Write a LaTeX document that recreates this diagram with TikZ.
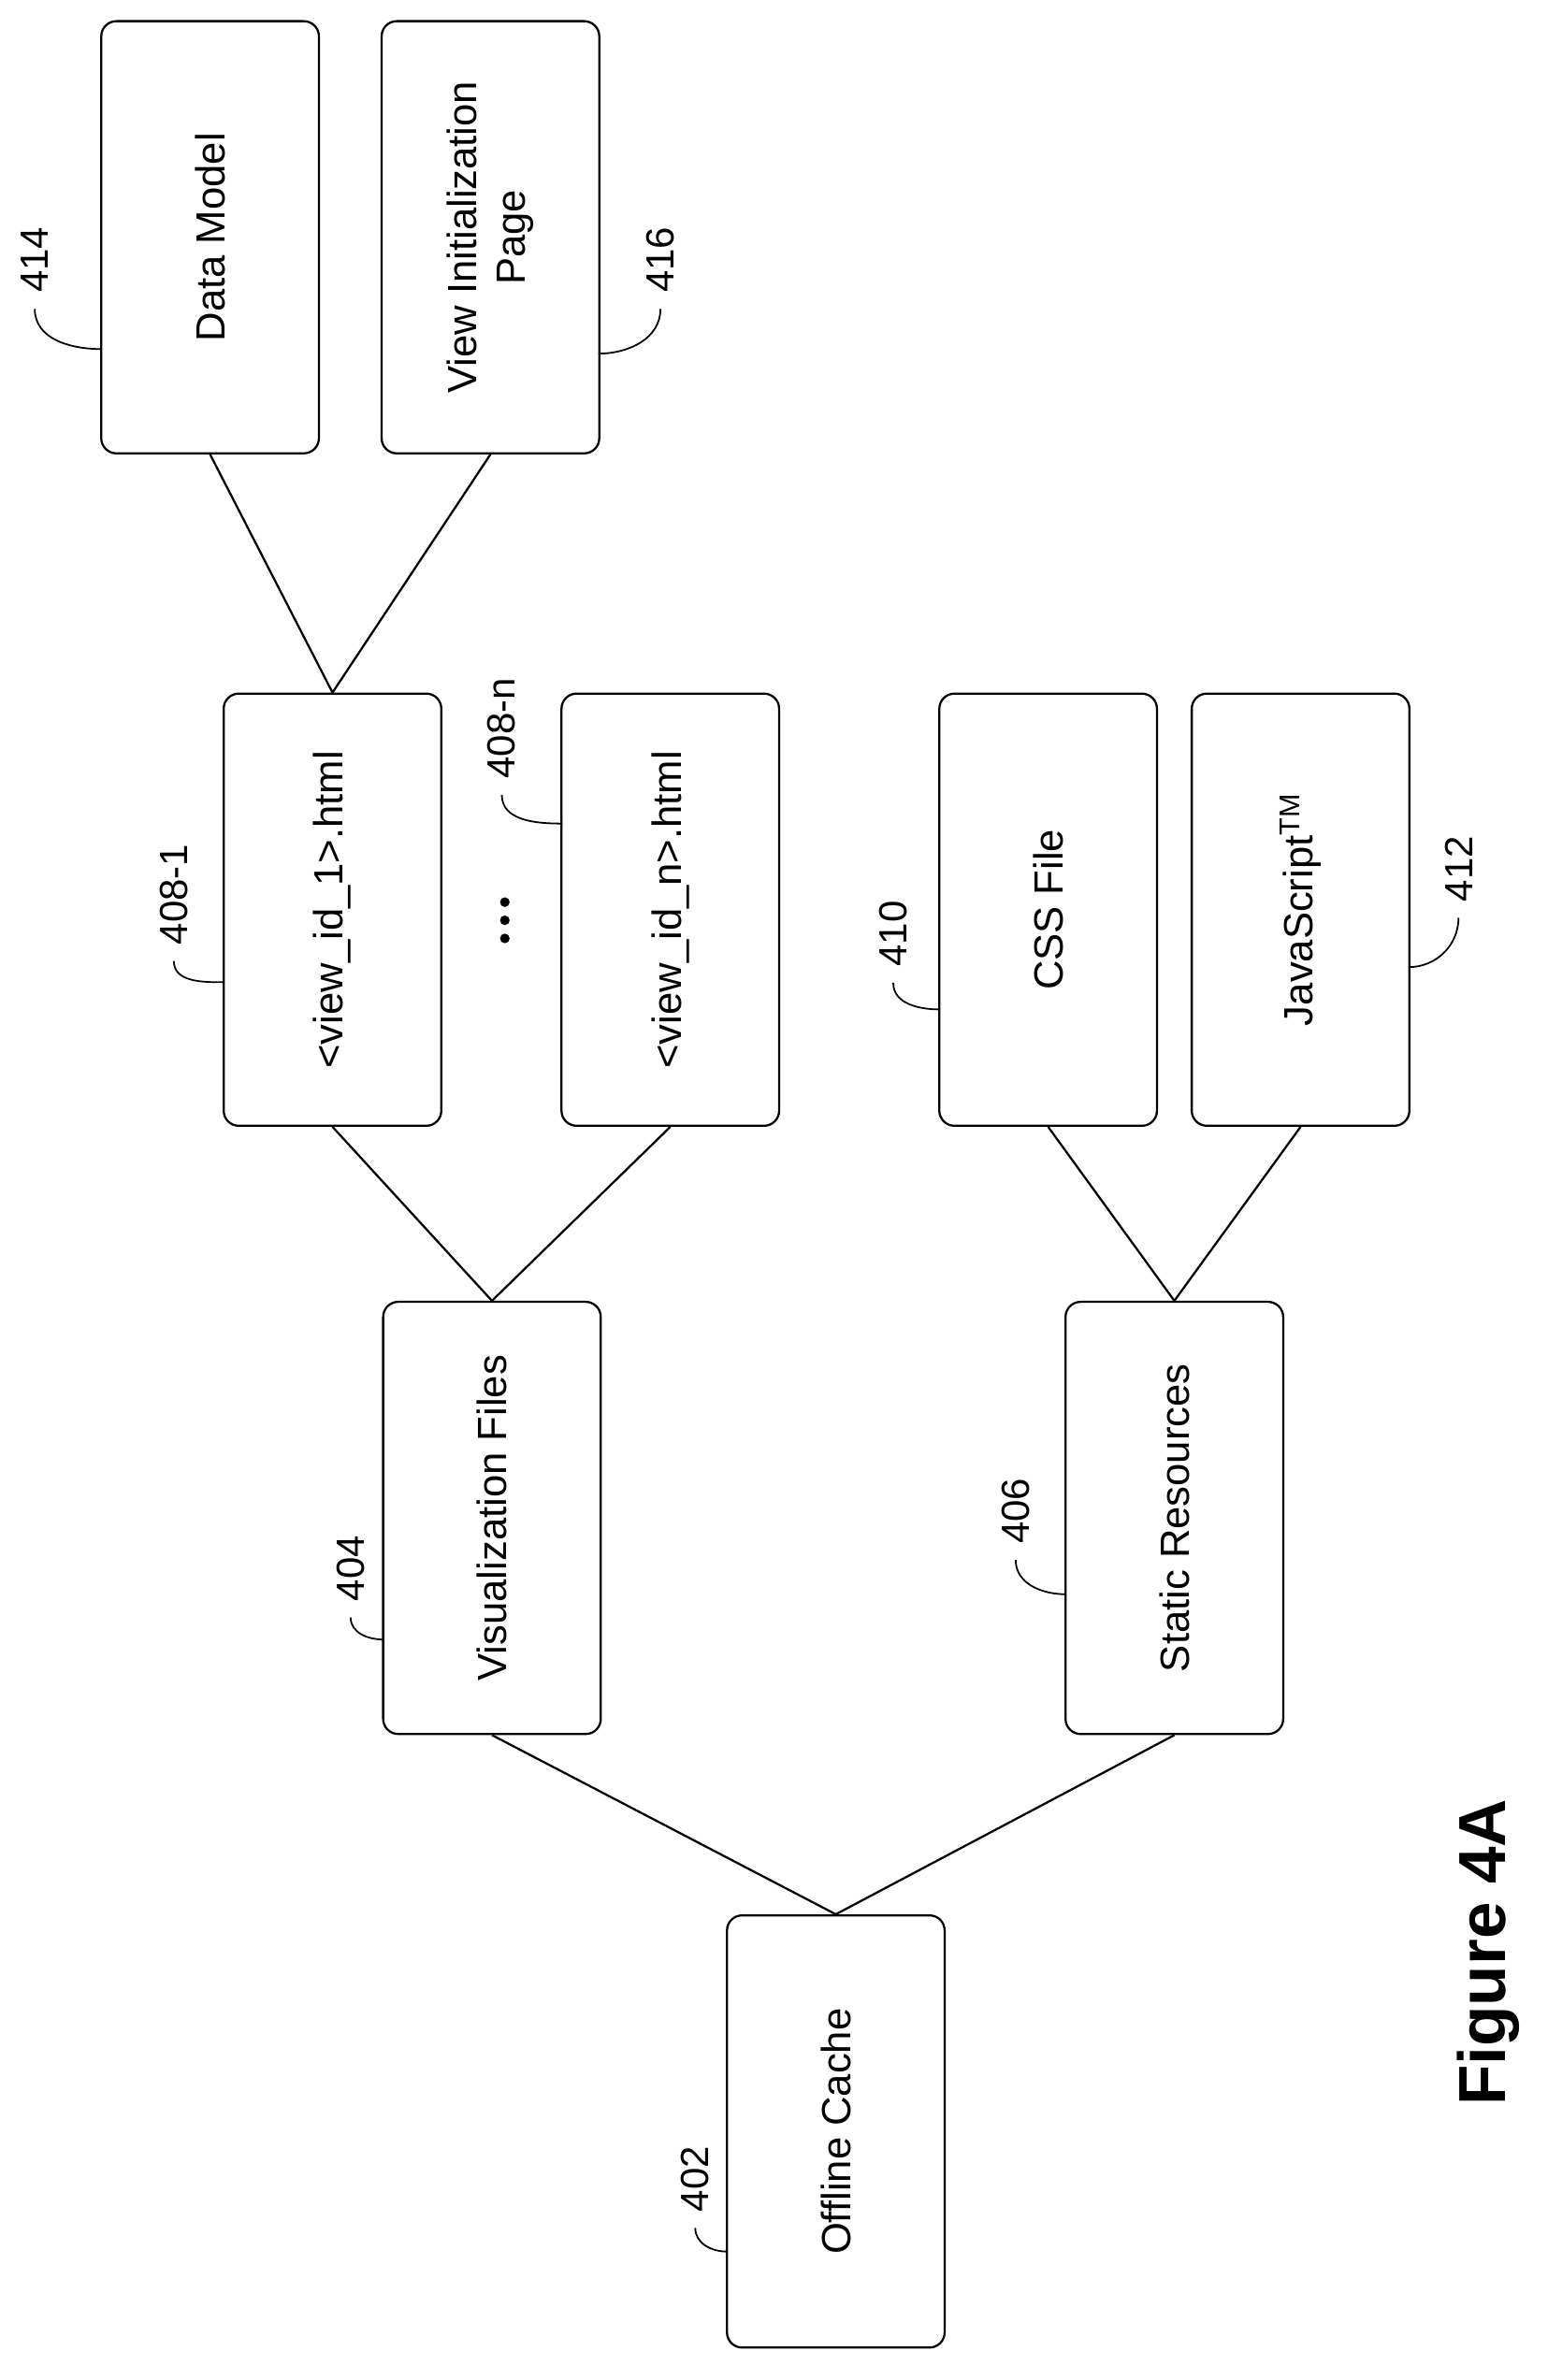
\documentclass[tikz,border=0pt]{standalone}
\usepackage{fontspec}
\setmainfont{Liberation Sans}
\begin{document}
\begin{tikzpicture}[x=1pt,y=-1pt,line width=1.4pt,
 box/.style={draw,rounded corners=10pt,minimum width=286pt,minimum height=144pt,align=center,rotate=90,font=\fontsize{27}{32}\selectfont},
 lab/.style={rotate=90,font=\fontsize{26}{30}\selectfont,inner sep=0pt},
 lead/.style={line width=1.1pt}]
\useasboundingbox (0,0) rectangle (1024,1575);
\node[box] (dm) at (139,157) {Data Model};
\node[box] (vi) at (324.5,157) {View Initialization\\Page};
\node[box] (v1) at (220,602) {<view\_id\_1>.html};
\node[box] (vn) at (443.5,602) {<view\_id\_n>.html};
\node[box] (css) at (693.5,602) {CSS File};
\node[box] (js) at (860.5,602) {JavaScript\textsuperscript{TM}};
\node[box] (vf) at (325.5,1004.5) {Visualization Files};
\node[box] (sr) at (777,1004.5) {Static Resources};
\node[box] (oc) at (553,1410.5) {Offline Cache};
\draw (dm.west) -- (v1.east) -- (vi.west);
\draw (v1.west) -- (vf.east) -- (vn.west);
\draw (css.west) -- (sr.east) -- (js.west);
\draw (vf.west) -- (oc.east) -- (sr.west);
\foreach \y in {597,609,621} \fill (334,\y) circle (3.2);
% labels
\node[lab] (l414) at (23,172) {414};
\node[lab] (l416) at (437,172) {416};
\node[lab] (l4081) at (115,592) {408-1};
\node[lab] (l408n) at (332,482) {408-n};
\node[lab] (l410) at (591,618) {410};
\node[lab] (l412) at (965,575) {412};
\node[lab] (l404) at (232,1038) {404};
\node[lab] (l406) at (672,1000) {406};
\node[lab] (l402) at (460,1442) {402};
\coordinate (b414) at (67,231);
\coordinate (b416) at (396,234);
\coordinate (b4081) at (148,650);
\coordinate (b408n) at (372,545);
\coordinate (b410) at (622,668);
\coordinate (b412) at (932,640);
\coordinate (b404) at (254,1085);
\coordinate (b406) at (705,1055);
\coordinate (b402) at (481,1490);
\draw[lead] ([yshift=-10pt]l414.west) to[out=-90,in=180] (b414);
\draw[lead] ([yshift=-10pt]l4081.west) to[out=-90,in=180] (b4081);
\draw[lead] ([yshift=-10pt]l408n.west) to[out=-90,in=180] (b408n);
\draw[lead] ([yshift=-10pt]l410.west) to[out=-90,in=180] (b410);
\draw[lead] ([yshift=-10pt]l404.west) to[out=-90,in=180] (b404);
\draw[lead] ([yshift=-10pt]l406.west) to[out=-90,in=180] (b406);
\draw[lead] ([yshift=-10pt]l402.west) to[out=-90,in=180] (b402);
\draw[lead] (b416) to[out=0,in=-90] ([yshift=-10pt]l416.west);
\draw[lead] (b412) to[out=0,in=-90] ([yshift=-10pt]l412.west);
\node[rotate=90,font=\bfseries\fontsize{44}{50}\selectfont] (fig) at (985,1292) {Figure 4A};
\end{tikzpicture}
\end{document}
